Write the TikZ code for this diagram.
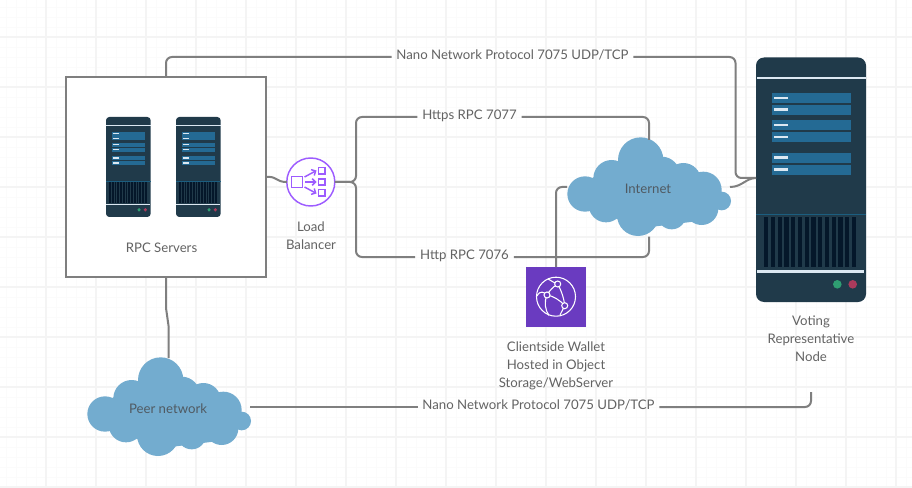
\documentclass[tikz,border=0pt]{standalone}
\usepackage{fontspec}
\setmainfont{Lato}
\usetikzlibrary{arrows.meta}
\definecolor{gridmajor}{HTML}{F4F4F4}
\definecolor{gridminor}{HTML}{FBFBFB}
\definecolor{wire}{HTML}{7F7F7F}
\definecolor{txt}{HTML}{636363}
\definecolor{cloudtxt}{HTML}{505A62}
\definecolor{cloudblue}{HTML}{73ACCF}
\definecolor{srvbody}{HTML}{203A4A}
\definecolor{srvpanel}{HTML}{246A94}
\definecolor{srvlight}{HTML}{DCE8F2}
\definecolor{srvbar}{HTML}{04172A}
\definecolor{srvline}{HTML}{1B5E80}
\definecolor{srvgreen}{HTML}{2F9E72}
\definecolor{srvred}{HTML}{AB3A5C}
\definecolor{lbpurple}{HTML}{9D5CFF}
\definecolor{walletpurple}{HTML}{6A3BC0}
\newcommand{\serverdraw}[5]{%
\begin{scope}[shift={(#1,#2)},xscale=#3,yscale=#4]
\fill[srvbody,rounded corners=#5] (0,0) rectangle (110,244.5);
\fill[srvlight] (0.5,19.5) rectangle (110,22);
\foreach \py in {35.8,47.5,62.8,74.8,95.5,107.5}{
  \fill[srvpanel] (16,\py) rectangle (95,\py+9.6);
  \fill[srvlight] (17.5,\py+3.4) rectangle (32,\py+6.2);
}
\fill[srvline] (0,156) rectangle (110,157);
\foreach \bx in {0,...,13}{
  \fill[srvbar] (8+\bx*6.77,159.2) rectangle (12.2+\bx*6.77,209.2);
}
\fill[srvlight] (0.7,212.5) rectangle (108,215);
\fill[srvgreen] (81.3,226.8) ellipse (4.3 and 4.3);
\fill[srvred] (96.7,226.8) ellipse (4.3 and 4.3);
\end{scope}}
\newcommand{\clouddraw}[2]{%
\begin{scope}[shift={(#1,#2)},x=0.25pt,y=-0.25pt]
\foreach \cx/\cy/\cr in {482/120/68,315/222/53,395/175/55,378/255/52,474/285/63,575/285/43,610/182/53,670/210/55,665/265/50,725/243/28,545/165/55}{
  \fill[cloudblue] (\cx,\cy) circle (\cr);
}
\fill[cloudblue] (335,175) -- (420,130) -- (600,135) -- (690,200) -- (700,280) -- (640,305) -- (520,320) -- (420,300) -- (325,265) -- cycle;
\end{scope}}
\tikzset{
 wirepath/.style={draw=wire,line width=1.5pt,rounded corners=4.5pt},
 lbl/.style={text=txt,font=\fontsize{9.9}{13.5}\selectfont,align=center,inner sep=0pt},
 wirelbl/.style={lbl,inner xsep=3.5pt,text height=7pt,text depth=2.6pt},
 cloudlbl/.style={lbl,text=cloudtxt},
 anchorbox/.style={inner sep=0pt,outer sep=0pt},
 lbstroke/.style={draw=lbpurple,line width=1.1pt},
 lbarrow/.style={draw=lbpurple,line width=1.1pt,-{Straight Barb[length=2.5pt,width=5pt]}},
 walletstroke/.style={draw=white,line width=0.8pt}
}
\begin{document}
\begin{tikzpicture}[x=0.75pt,y=-0.75pt]
\useasboundingbox (0,0) rectangle (912,488);
\begin{scope}
\clip (0,0) rectangle (912,488);
\fill[white] (0,0) rectangle (912,488);
\foreach \gx in {6,16,...,906}{\draw[gridminor,line width=0.6pt] (\gx,0) -- (\gx,488);}
\foreach \gy in {7,17,...,487}{\draw[gridminor,line width=0.6pt] (0,\gy) -- (912,\gy);}
\foreach \gx in {46,96,...,896}{\draw[gridmajor,line width=1.1pt] (\gx,0) -- (\gx,488);}
\foreach \gy in {37,87,...,487}{\draw[gridmajor,line width=1.1pt] (0,\gy) -- (912,\gy);}
\end{scope}
% RPC box
\node[draw=wire,fill=white,line width=1.5pt,minimum size=150pt,anchorbox] (rpc) at (166,177) {};
\serverdraw{106}{117}{0.406}{0.409}{2.5pt}
\serverdraw{176}{117}{0.406}{0.409}{2.5pt}
\node[lbl] (rpclabel) at (161.5,247.6) {RPC Servers};
% Voting server
\serverdraw{756}{57.5}{1}{1}{6pt}
\node[anchorbox,minimum width=82.5pt,minimum height=183.4pt] (voting) at (811,179.75) {};
\node[lbl] (votinglabel) at (811,338.6) {Voting\\Representative\\Node};
% Clouds
\clouddraw{480}{120}
\node[cloudlbl] (internet) at (648,188.6) {Internet};
\clouddraw{0}{340}
\node[cloudlbl] (peer) at (168,408.6) {Peer network};
% Load balancer
\node[circle,draw=lbpurple,line width=1.1pt,fill=white,minimum size=36pt,anchorbox] (lb) at (310.8,182) {};
\node[lbl] (lblabel) at (311,236) {Load\\Balancer};
\draw[lbstroke] (291.7,176.7) rectangle (302.3,187.3);
\draw[lbstroke] (318.7,167.7) rectangle (325,174);
\draw[lbstroke] (318.7,178.8) rectangle (325,185.1);
\draw[lbstroke] (318.7,189.7) rectangle (325,196);
\draw[lbarrow] (304.5,177) -- (316.5,170.5);
\draw[lbarrow] (305,182) -- (316.5,182);
\draw[lbarrow] (304.5,187) -- (316.5,193.5);
% Wallet
\node[fill=walletpurple,minimum size=45pt,anchorbox] (wallet) at (556,297) {};
\node[lbl] (walletlabel) at (556,365.6) {Clientside Wallet\\Hosted in Object\\Storage/WebServer};
\draw[walletstroke] (556,296.7) circle (19.5);
\draw[walletstroke] (537,296) .. controls (540,290) and (544,292) .. (547,295);
\draw[walletstroke] (547,295) .. controls (549,291) and (553,287) .. (557.7,284);
\draw[walletstroke] (547,295) .. controls (553,296) and (560,300) .. (564.7,305.7);
\draw[walletstroke] (557.7,284) .. controls (561,290) and (564,298) .. (564.7,305.7);
\draw[walletstroke] (547,295) .. controls (544,302) and (545,310) .. (549,315.5);
\draw[walletstroke] (548,279) .. controls (552,281) and (554,283) .. (557.7,284);
\draw[walletstroke] (564.7,305.7) -- (560,315);
\foreach \wx/\wy in {557.7/284,547/295,564.7/305.7}{
  \filldraw[walletstroke,fill=walletpurple] (\wx,\wy) circle (3);
}
% Connector labels
\node[wirelbl] (toplabel) at (512.5,57) {Nano Network Protocol 7075 UDP/TCP};
\node[wirelbl] (https) at (469.5,117) {Https RPC 7077};
\node[wirelbl] (http) at (464.5,257) {Http RPC 7076};
\node[wirelbl] (botlabel) at (538.5,407) {Nano Network Protocol 7075 UDP/TCP};
% Free connector ends
\coordinate (branch) at (356,182);
\coordinate (inttop) at (649,140);
\coordinate (intbot) at (649,236.5);
\coordinate (intleft) at (567,187);
\coordinate (intright) at (730,187);
\coordinate (votein) at (756,178);
\coordinate (peertop) at (168.7,358);
\coordinate (peerright) at (250,407);
\coordinate (votebot) at (811,392);
\coordinate (bendA) at (166,308);
\coordinate (bendB) at (168.7,327);
% Connectors
\draw[wirepath] (rpc.north) |- (toplabel.west);
\draw[wirepath] (toplabel.east) -| (735.5,178) -- (votein);
\draw[wirepath] (intright) .. controls (742,187) and (746,178) .. (votein);
\draw[wirepath,rounded corners=0pt] (rpc.east) .. controls (278,176) and (275,182) .. (lb.west);
\draw[wirepath] (lb.east) -- (branch) |- (https.west);
\draw[wirepath] (https.east) -| (inttop);
\draw[wirepath] (lb.east) -- (branch) |- (http.west);
\draw[wirepath] (http.east) -| (intbot);
\draw[wirepath] (wallet.north) |- (intleft);
\draw[wirepath,rounded corners=0pt] (rpc.south) -- (bendA) -- (bendB) -- (peertop);
\draw[wirepath] (peerright) -- (botlabel.west);
\draw[wirepath] (botlabel.east) -| (votebot);
\end{tikzpicture}
\end{document}
